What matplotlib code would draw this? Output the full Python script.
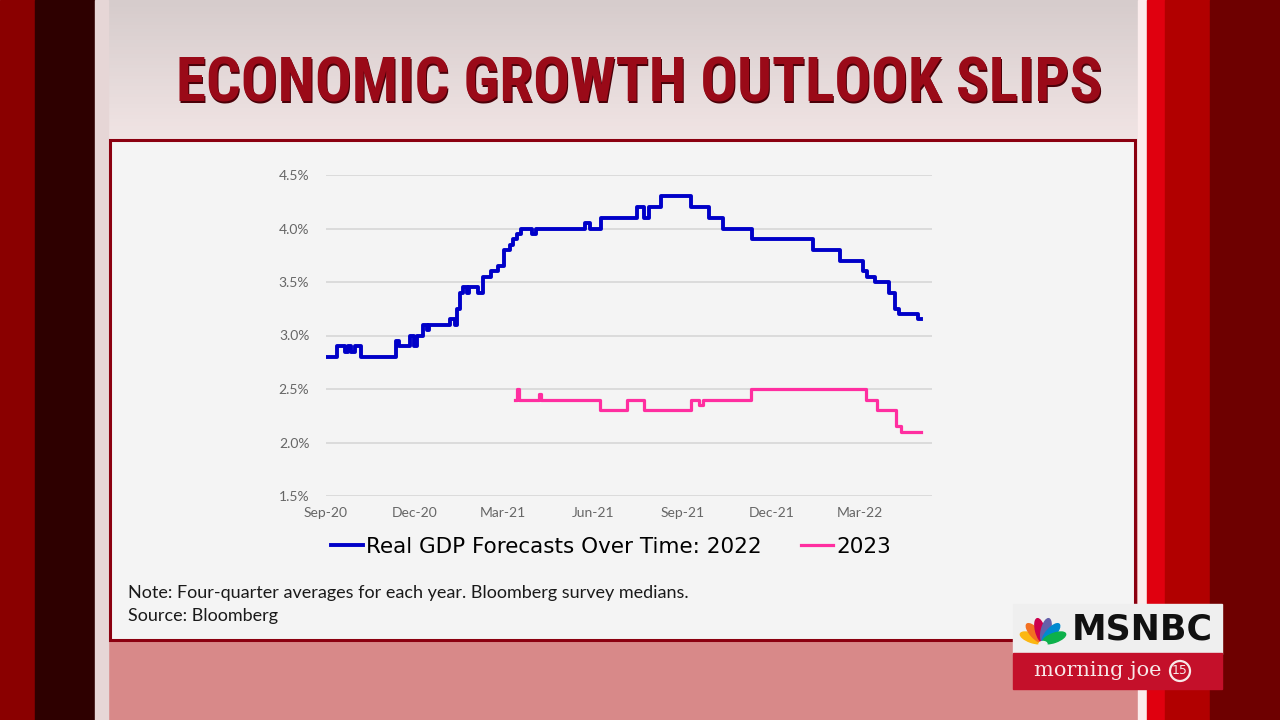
import numpy as np
import pandas as pd
import matplotlib
matplotlib.use("Agg")
import matplotlib.pyplot as plt
import matplotlib.dates as mdates
from matplotlib import font_manager
from matplotlib.patches import Rectangle, Ellipse, Circle

# Bloomberg survey medians, real GDP forecast (four-quarter average)
dates_2022 = ["2020-09-01", "2020-09-12", "2020-09-20", "2020-09-23", "2020-09-27",
              "2020-10-01", "2020-10-07", "2020-11-12", "2020-11-15", "2020-11-26",
              "2020-11-30", "2020-12-03", "2020-12-09", "2020-12-13", "2020-12-15",
              "2021-01-06", "2021-01-11", "2021-01-13", "2021-01-16", "2021-01-19",
              "2021-01-23", "2021-01-25", "2021-02-03", "2021-02-09", "2021-02-17",
              "2021-02-24", "2021-03-02", "2021-03-08", "2021-03-11", "2021-03-15",
              "2021-03-19", "2021-03-31", "2021-04-04", "2021-05-24", "2021-05-29",
              "2021-06-09", "2021-07-16", "2021-07-23", "2021-07-28", "2021-08-10",
              "2021-09-09", "2021-09-28", "2021-10-12", "2021-11-11", "2022-01-12",
              "2022-02-09", "2022-03-04", "2022-03-08", "2022-03-17", "2022-03-31",
              "2022-04-06", "2022-04-10", "2022-04-30", "2022-05-03"]
gdp_2022 = [2.8, 2.9, 2.85, 2.9, 2.85,
            2.9, 2.8, 2.95, 2.9, 3.0,
            2.9, 3.0, 3.1, 3.05, 3.1,
            3.15, 3.1, 3.25, 3.4, 3.45,
            3.4, 3.45, 3.4, 3.55, 3.6,
            3.65, 3.8, 3.85, 3.9, 3.95,
            4.0, 3.95, 4.0, 4.05, 4.0,
            4.1, 4.2, 4.1, 4.2, 4.3,
            4.2, 4.1, 4.0, 3.9, 3.8,
            3.7, 3.6, 3.55, 3.5, 3.4,
            3.25, 3.2, 3.15, 3.15]

dates_2023 = ["2021-03-13", "2021-03-15", "2021-03-17", "2021-04-07", "2021-04-09",
              "2021-06-08", "2021-07-06", "2021-07-23", "2021-09-09", "2021-09-18",
              "2021-09-22", "2021-11-10", "2022-03-07", "2022-03-19", "2022-04-07",
              "2022-04-12", "2022-05-03"]
gdp_2023 = [2.4, 2.5, 2.4, 2.45, 2.4,
            2.3, 2.4, 2.3, 2.4, 2.35,
            2.4, 2.5, 2.4, 2.3, 2.15,
            2.1, 2.1]

y_ticks = [1.5, 2.0, 2.5, 3.0, 3.5, 4.0, 4.5]
title = "ECONOMIC GROWTH OUTLOOK SLIPS"
legend_labels = ["Real GDP Forecasts Over Time: 2022", "2023"]
note = "Note: Four-quarter averages for each year. Bloomberg survey medians."
source = "Source: Bloomberg"

W, H = 1280, 720


def pick_font(names, fallback="DejaVu Sans"):
    installed = {f.name for f in font_manager.fontManager.ttflist}
    for n in names:
        if n in installed:
            return n
    return fallback


narrow = pick_font(["Liberation Sans Narrow", "DejaVu Sans Condensed",
                    "Roboto Condensed", "Open Sans Condensed"])

fig = plt.figure(figsize=(W / 100, H / 100), dpi=100)

# background layer in pixel coordinates
bg = fig.add_axes([0, 0, 1, 1])
bg.set_xlim(0, W)
bg.set_ylim(H, 0)
bg.axis("off")

# centre panel: light top, pink bottom
rows = np.linspace(0, 1, 200)
top_c = np.array([0.84, 0.80, 0.80])
mid_c = np.array([0.95, 0.90, 0.90])
bot_c = np.array([0.85, 0.54, 0.54])
grad = np.zeros((200, 1, 3))
for i, r in enumerate(rows):
    if r < 0.2:
        c = top_c + (mid_c - top_c) * r / 0.2
    elif r < 0.86:
        c = mid_c + (bot_c - mid_c) * (r - 0.2) / 0.66
    else:
        c = bot_c
    grad[i, 0] = c
bg.imshow(grad, extent=[95, 1145, H, 0], aspect="auto", zorder=0)

# side stripes
stripes = [(0, 35, "#8a0000"), (35, 95, "#2e0000"), (95, 108, "#e6d6d6"),
           (1138, 1147, "#fbecec"), (1147, 1165, "#e0000f"),
           (1165, 1210, "#b10000"), (1210, W, "#6e0000")]
for x0, x1, col in stripes:
    bg.add_patch(Rectangle((x0, 0), x1 - x0, H, color=col, zorder=1))

# chart card
bg.add_patch(Rectangle((110, 140), 1025, 500, facecolor="#f4f4f4",
                       edgecolor="#8b0010", lw=2.2, zorder=2))

# title with slight shadow, sized to span the same width as the reference
title_size = 44 if narrow != "DejaVu Sans" else 32.5
title_kw = dict(ha="center", va="center", fontsize=title_size, fontweight="bold",
                family=[narrow, "DejaVu Sans"], zorder=3)
bg.text(640, 86, title, color="#4a0008", **title_kw)
bg.text(639, 84, title, color="#9a0a18", **title_kw)

# note and source
bg.text(128, 593, note, fontsize=13, color="#1a1a1a", va="center",
        family="Lato", zorder=3)
bg.text(128, 616, source, fontsize=13, color="#1a1a1a", va="center",
        family="Lato", zorder=3)

# MSNBC / morning joe bug
bg.add_patch(Rectangle((1013, 604), 209, 50, color="#efefef", zorder=4))
bg.add_patch(Rectangle((1013, 653), 209, 36, color="#c4102a", zorder=4))
peacock = ["#fcb711", "#f37021", "#cc004c", "#6460aa", "#0089d0", "#0db14b"]
angles = [160, 132, 104, 76, 48, 20]
cx, cy = 1043, 642
for col, ang in zip(peacock, angles):
    a = np.deg2rad(ang)
    ex = cx + 12 * np.cos(a)
    ey = cy - 12 * np.sin(a)
    bg.add_patch(Ellipse((ex, ey), 24, 9, angle=-ang, color=col, zorder=5))
bg.add_patch(Ellipse((cx, cy + 2), 8, 5, color="#efefef", zorder=6))
bg.text(1142, 630, "MSNBC", fontsize=25, fontweight="heavy", color="#111111",
        ha="center", va="center", family="DejaVu Sans", zorder=6)
bg.text(1098, 671, "morning joe", fontsize=15, color="#f8e8e8",
        ha="center", va="center", family="DejaVu Serif", zorder=6)
bg.add_patch(Circle((1180, 671), 10, facecolor="none", edgecolor="#f8e8e8",
                    lw=1.6, zorder=6))
bg.text(1180, 671, "15", fontsize=9, color="#f8e8e8", ha="center",
        va="center", zorder=6)

# the chart itself
x0, x1, ybot, ytop = 326, 932, 496, 175
ax = fig.add_axes([x0 / W, 1 - ybot / H, (x1 - x0) / W, (ybot - ytop) / H])
ax.set_facecolor("none")
ax.step(pd.to_datetime(dates_2022), gdp_2022, where="post", color="#0000c8",
        lw=2.8, label=legend_labels[0], zorder=3)
ax.step(pd.to_datetime(dates_2023), gdp_2023, where="post", color="#ff2ea0",
        lw=2.3, label=legend_labels[1], zorder=3)

ax.set_ylim(1.5, 4.5)
ax.set_yticks(y_ticks)
ax.set_yticklabels([f"{v:.1f}%" for v in y_ticks])
ax.set_xlim(pd.Timestamp("2020-09-01"), pd.Timestamp("2022-05-14"))
ax.xaxis.set_major_locator(mdates.MonthLocator(bymonth=[3, 6, 9, 12]))
ax.xaxis.set_major_formatter(mdates.DateFormatter("%b-%y"))
ax.grid(axis="y", color="#d6d6d6", lw=1.2)
ax.grid(axis="x", visible=False)
for s in ax.spines.values():
    s.set_visible(False)
ax.tick_params(length=0, labelsize=10, labelcolor="#666666", pad=8)
ax.tick_params(axis="y", pad=12)
for lab in ax.get_xticklabels() + ax.get_yticklabels():
    lab.set_family("Lato")

fig.legend(loc="center", bbox_to_anchor=(611 / W, 1 - 547 / H), ncol=2,
           frameon=False, handlelength=1.5, handletextpad=0.15,
           columnspacing=1.8, prop={"family": "DejaVu Sans", "size": 15.5})

fig.savefig("out.png", dpi=100)
